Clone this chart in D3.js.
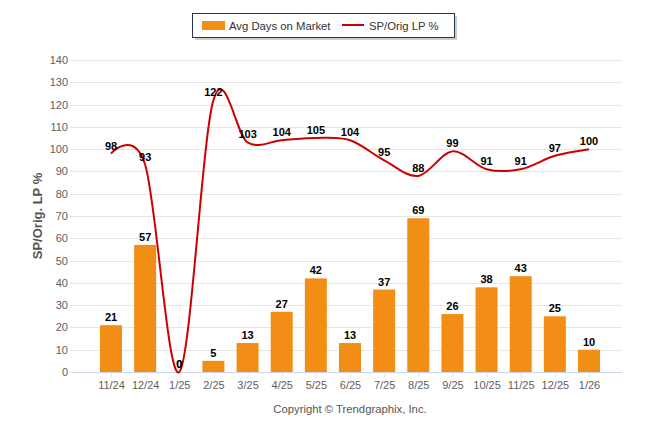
<!DOCTYPE html>
<html><head><meta charset="utf-8">
<script src="https://cdn.jsdelivr.net/npm/d3@7"></script>
<style>body{margin:0;background:#fff;}svg{display:block;font-family:"Liberation Sans",Arial,sans-serif;}</style>
</head><body>
<svg id="c" width="646" height="434"></svg>
<script>
const categories = ["11/24","12/24","1/25","2/25","3/25","4/25","5/25","6/25","7/25","8/25","9/25","10/25","11/25","12/25","1/26"];
const daysOnMarket = [21,57,0,5,13,27,42,13,37,69,26,38,43,25,10];
const spOrigLP = [98,93,0,122,103,104,105,104,95,88,99,91,91,97,100];
const yTicks = [0,10,20,30,40,50,60,70,80,90,100,110,120,130,140];

const svg = d3.select("#c");
const plotL = 70, plotR = 622, plotT = 60, plotB = 372;
const x = d3.scalePoint().domain(categories).range([111, 589]);
const y = d3.scaleLinear().domain([0,140]).range([plotB, plotT]);

// grid
svg.append("g").selectAll("line").data(yTicks.filter(d=>d>0)).join("line")
  .attr("x1", plotL).attr("x2", plotR)
  .attr("y1", d=>Math.round(y(d))+0.5).attr("y2", d=>Math.round(y(d))+0.5)
  .attr("stroke", "#e6e6e6").attr("stroke-width", 1);

// y axis labels
const ya = svg.append("g").attr("transform", `translate(${plotL-2},0)`)
  .call(d3.axisLeft(y).tickValues(yTicks).tickSize(0).tickPadding(0));
ya.select(".domain").remove();
ya.selectAll("text").attr("fill", "#606060").style("font-size", "11px").style("font-family", "Liberation Sans, Arial, sans-serif");

// x axis
const xa = svg.append("g").attr("transform", `translate(0,${plotB+0.5})`)
  .call(d3.axisBottom(x).tickSize(5).tickPadding(4));
xa.select(".domain").attr("d", `M${plotL},0H${plotR}`).attr("stroke", "#ccd6eb");
xa.selectAll(".tick line").attr("stroke", "#e6e6e6");
xa.selectAll("text").attr("fill", "#606060").style("font-size", "11px").style("font-family", "Liberation Sans, Arial, sans-serif");

// y title
svg.append("text").attr("transform", `translate(42,${(plotT+plotB)/2}) rotate(-90)`)
  .attr("text-anchor", "middle").attr("font-size", "13px").attr("font-weight", "bold").attr("fill", "#555")
  .text("SP/Orig. LP %");

// bars
const bw = 22;
svg.append("g").selectAll("rect").data(daysOnMarket).join("rect")
  .attr("x", (d,i)=>x(categories[i]) - bw/2).attr("width", bw)
  .attr("y", d=>y(d)).attr("height", d=>plotB - y(d))
  .attr("fill", "#f28e16");

// clip
svg.append("clipPath").attr("id","clip").append("rect")
  .attr("x", plotL).attr("y", plotT-30).attr("width", plotR-plotL).attr("height", plotB-plotT+32);

// spline
const pts = spOrigLP.map((v,i)=>[x(categories[i]), y(v)]);
function splinePath(p){
  const sm = 2, den = sm+1;
  let d = `M${p[0][0]},${p[0][1]}`;
  let lastRight = null;
  for(let i=1;i<p.length;i++){
    const [px,py] = p[i];
    let lcx=px, lcy=py, rcx=null, rcy=null;
    if(i < p.length-1){
      const [lx,ly]=p[i-1], [nx,ny]=p[i+1];
      lcx=(sm*px+lx)/den; lcy=(sm*py+ly)/den;
      rcx=(sm*px+nx)/den; rcy=(sm*py+ny)/den;
      const corr = ((rcy-lcy)*(rcx-px))/(rcx-lcx) + py - rcy;
      lcy += corr; rcy += corr;
    }
    const s = lastRight || p[i-1];
    d += `C${s[0]},${s[1]} ${lcx},${lcy} ${px},${py}`;
    lastRight = rcx===null ? null : [rcx,rcy];
  }
  return d;
}
svg.append("path").attr("d", splinePath(pts)).attr("clip-path","url(#clip)")
  .attr("fill","none").attr("stroke","#cc0000").attr("stroke-width",2);

// bar labels
svg.append("g").selectAll("text").data(daysOnMarket).join("text")
  .attr("x", (d,i)=>x(categories[i])).attr("y", d=>y(d)-4)
  .attr("text-anchor","middle").attr("font-size","11px").attr("font-weight","bold").attr("fill","#000")
  .text(d=>d);
// line labels
svg.append("g").selectAll("text").data(spOrigLP).join("text")
  .attr("x", (d,i)=>x(categories[i])).attr("y", d=>y(d)-4)
  .attr("text-anchor","middle").attr("font-size","11px").attr("font-weight","bold").attr("fill","#000")
  .text(d=>d);

// legend
const lg = svg.append("g");
lg.append("rect").attr("x",195).attr("y",16).attr("width",262).attr("height",24).attr("fill","#999").attr("opacity",0.5);
lg.append("rect").attr("x",192.5).attr("y",13.5).attr("width",262).attr("height",24).attr("fill","#fff").attr("stroke","#1f3658").attr("stroke-width",1);
lg.append("rect").attr("x",202).attr("y",21).attr("width",23).attr("height",9).attr("fill","#f28e16");
lg.append("text").attr("x",229).attr("y",30).attr("font-size","11.3px").attr("fill","#333").text("Avg Days on Market");
lg.append("line").attr("x1",342).attr("x2",364).attr("y1",25).attr("y2",25).attr("stroke","#cc0000").attr("stroke-width",2);
lg.append("text").attr("x",369).attr("y",30).attr("font-size","11.3px").attr("fill","#333").text("SP/Orig LP %");

// credits
svg.append("text").attr("x",350).attr("y",413).attr("text-anchor","middle").attr("font-size","11.3px").attr("fill","#555")
  .text("Copyright © Trendgraphix, Inc.");
</script>
</body></html>
